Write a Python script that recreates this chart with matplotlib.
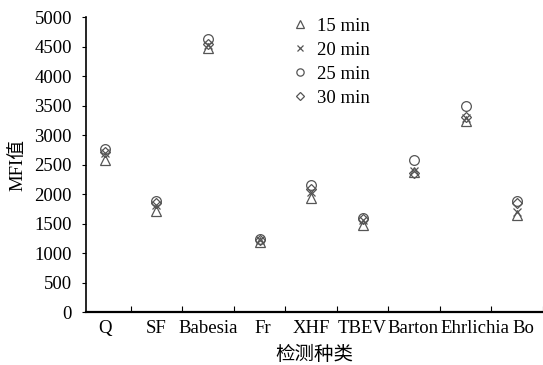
import matplotlib
matplotlib.use("Agg")
import matplotlib.pyplot as plt
import matplotlib.transforms as mtransforms
import numpy as np

categories = ["Q", "SF", "Babesia", "Fr", "XHF", "TBEV", "Barton", "Ehrlichia", "Bo"]
series_names = ["15 min", "20 min", "25 min", "30 min"]
v15 = [2580, 1720, 4470, 1190, 1940, 1480, 2380, 3240, 1650]
v20 = [2700, 1820, 4520, 1220, 2040, 1560, 2400, 3290, 1700]
v25 = [2760, 1890, 4630, 1240, 2150, 1590, 2580, 3500, 1880]
v30 = [2720, 1850, 4540, 1230, 2080, 1570, 2350, 3310, 1850]
yticks = [0, 500, 1000, 1500, 2000, 2500, 3000, 3500, 4000, 4500, 5000]

plt.rcParams['font.family'] = ['Liberation Serif', 'Noto Sans CJK SC']

fig = plt.figure(figsize=(5.43, 3.65), dpi=100)
ax = fig.add_axes([0.158, 0.145, 0.842, 0.808])

x = np.arange(1, len(categories) + 1)
col = '#555555'
markers = ['^', 'x', 'o', 'D']
sizes = [7, 6, 7, 5]
handles = []
for vals, m, ms, name in zip([v15, v20, v25, v30], markers, sizes, series_names):
    if m == 'x':
        h, = ax.plot(x, vals, linestyle='none', marker=m, markersize=ms, color=col,
                     markeredgewidth=0.9, label=name)
    else:
        h, = ax.plot(x, vals, linestyle='none', marker=m, markersize=ms,
                     markerfacecolor='none', markeredgecolor=col, markeredgewidth=0.9, label=name)
    handles.append(h)

ax.set_xlim(0.63, 9.5)
ax.set_ylim(0, 5000)
ax.set_yticks(yticks)
ax.set_yticklabels([str(t) for t in yticks], fontsize=13.5)
ax.set_xticks(x + 0.5, minor=False)
ax.set_xticklabels([])
ax.set_xticks(x, minor=True)
ax.set_xticklabels(categories, minor=True, fontsize=13.5)
ax.tick_params(axis='x', which='major', direction='in', length=4, width=0.8)
ax.tick_params(axis='x', which='minor', length=0, pad=6)
ax.tick_params(axis='y', direction='out', length=3, width=0.8, pad=7)

# small horizontal nudges of crowded category labels (as in the reference)
nudges = {"Fr": 3, "Barton": -1, "Ehrlichia": 9, "Bo": 6}
for lbl in ax.get_xticklabels(minor=True):
    dx = nudges.get(lbl.get_text(), 0)
    if dx:
        lbl.set_transform(lbl.get_transform() +
                          mtransforms.ScaledTranslation(dx / 100, 0, fig.dpi_scale_trans))

for s in ['top', 'right']:
    ax.spines[s].set_visible(False)
ax.spines['bottom'].set_linewidth(1.6)
ax.spines['left'].set_linewidth(1.2)

ax.set_ylabel('MFI值', fontsize=13.5, labelpad=6)
ax.set_xlabel('检测种类', fontsize=14, labelpad=6)

leg = ax.legend(handles=handles, loc='upper left', bbox_to_anchor=(0.42, 1.055),
                frameon=False, fontsize=13.5, handlelength=0.6, handletextpad=0.6,
                labelspacing=0.36, markerscale=0.75)

fig.savefig('out.png', dpi=100)
